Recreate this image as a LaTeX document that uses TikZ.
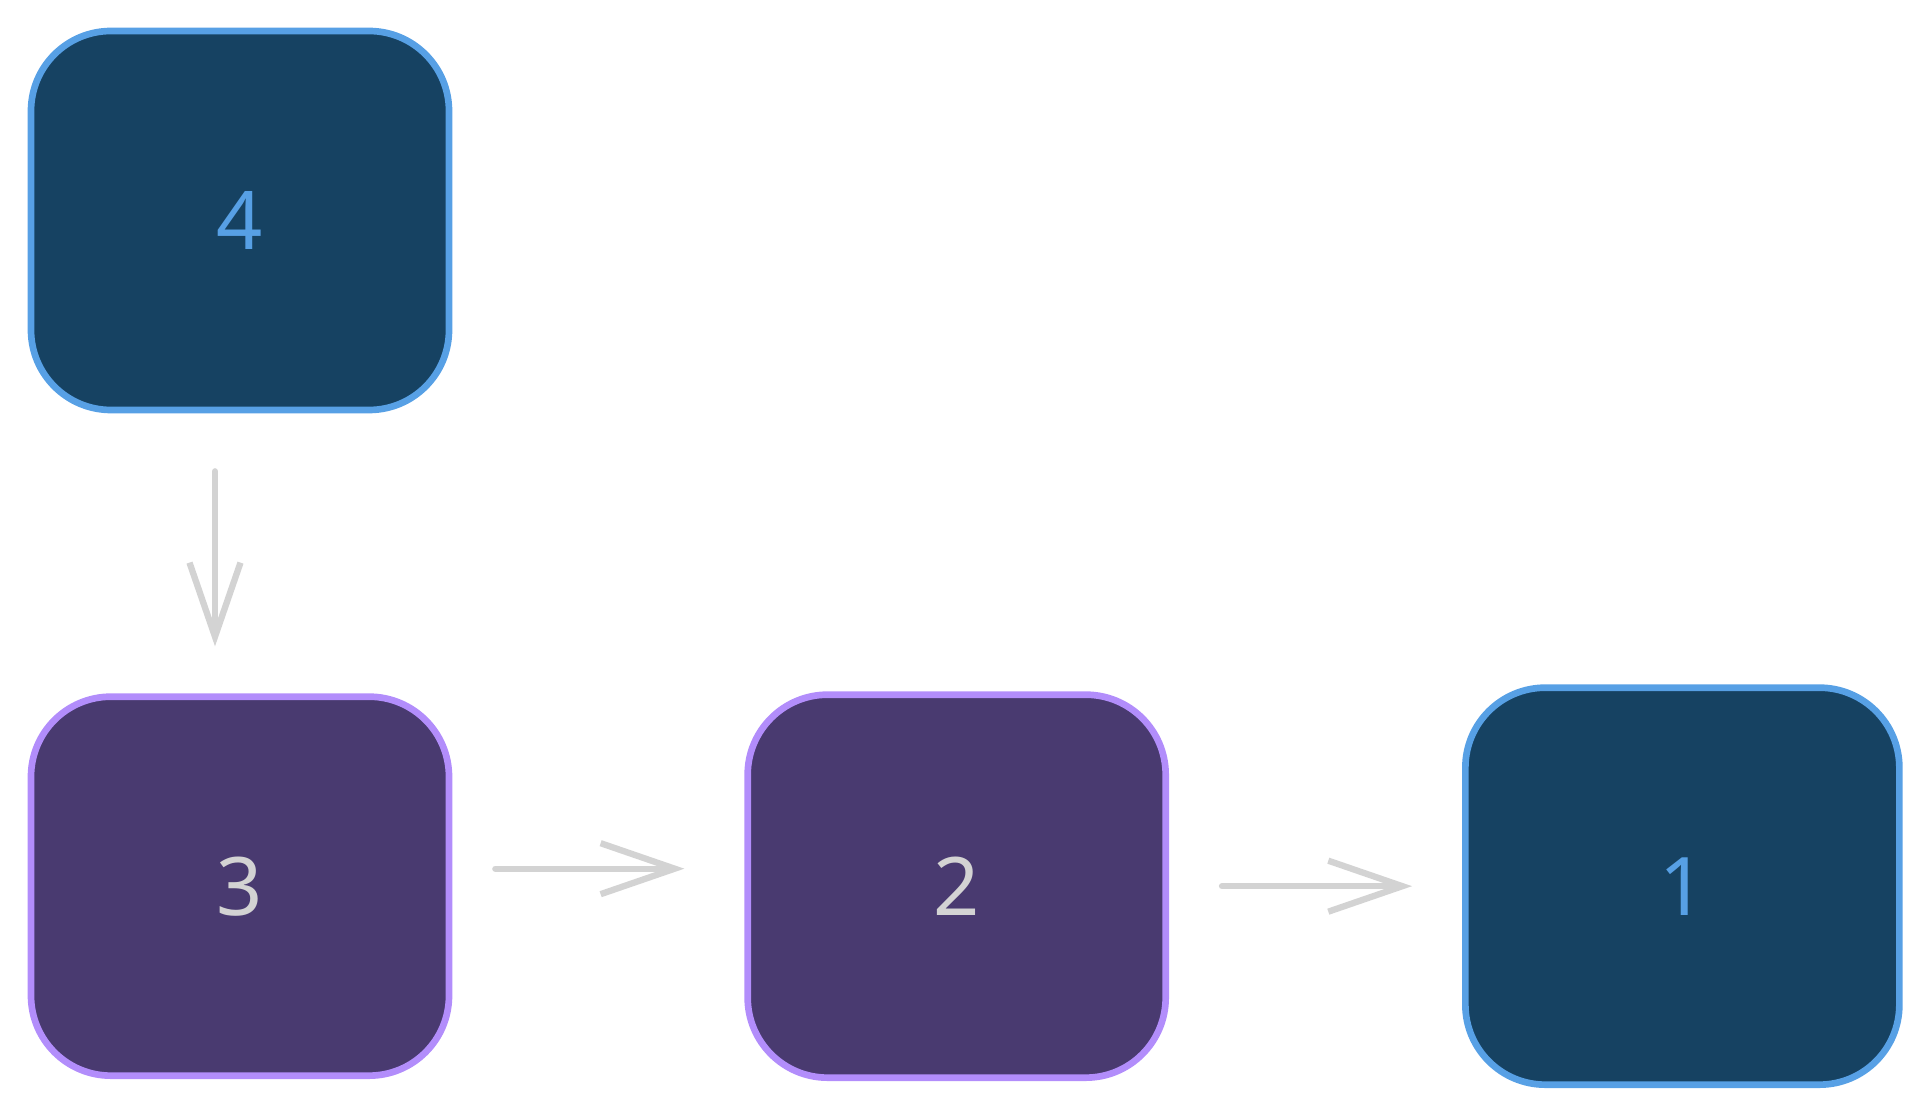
\documentclass[tikz,border=0pt]{standalone}
\usepackage{fontspec}
\setmainfont{Noto Sans}
\usetikzlibrary{arrows.meta,positioning}

\definecolor{deepblue}{HTML}{164262}
\definecolor{skyblue}{HTML}{57A0E5}
\definecolor{deeppurple}{HTML}{493A70}
\definecolor{lilac}{HTML}{B28DFB}
\definecolor{lightgrey}{HTML}{D3D3D3}

\tikzset{
  card/.style={rectangle, rounded corners=0.8cm, line width=1.9pt,
    minimum width=4.18cm, minimum height=3.79cm,
    font=\fontsize{23}{27}\selectfont},
  bluecard/.style={card, draw=skyblue, fill=deepblue, text=skyblue},
  purplecard/.style={card, draw=lilac, fill=deeppurple, text=lightgrey},
  link/.style={draw=lightgrey, line width=1.8pt, ->}
}

\begin{document}
\begin{tikzpicture}[>={Straight Barb[length=7.4mm,width=5.1mm]}, line cap=round, line join=round]
        \useasboundingbox (0,0) rectangle (19.17,11.08);
        \node[bluecard] (n4) at (2.40,8.875) {4};
        \node[purplecard] (n3) [below=2.8cm of n4] {3};
        \node[purplecard, minimum height=3.83cm] (n2) [right=2.92cm of n3] {2};
        \node[bluecard, minimum width=4.34cm, minimum height=3.97cm] (n1) [right=2.93cm of n2] {1};

        \path ([xshift=-2.5mm]n4.south) edge[link, shorten <=5.8mm, shorten >=4.7mm] ([xshift=-2.5mm]n3.north);
        \path ([yshift=1.75mm]n3.east) edge[link, shorten <=4.3mm, shorten >=6.0mm] ([yshift=1.75mm]n2.west);
        \path (n2) edge[link, shorten <=5.3mm, shorten >=5.0mm] (n1);
      \end{tikzpicture}
\end{document}
